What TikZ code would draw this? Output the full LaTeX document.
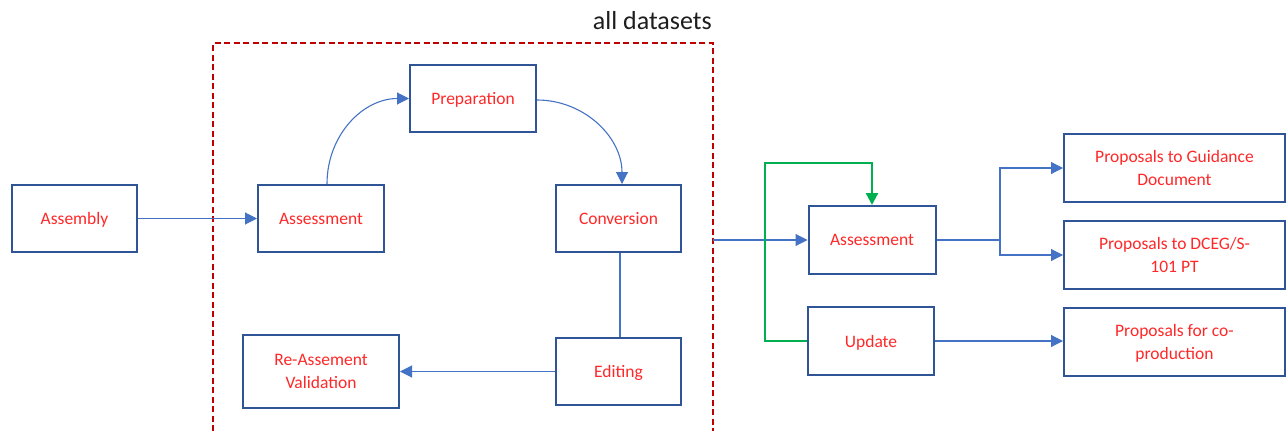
\documentclass[tikz,border=0pt]{standalone}
\usepackage{fontspec}
\setmainfont{Carlito}
\usetikzlibrary{arrows.meta}
\definecolor{boxblue}{RGB}{47,85,151}
\definecolor{linkblue}{RGB}{68,114,196}
\definecolor{labelred}{RGB}{255,40,40}
\definecolor{framered}{RGB}{192,0,0}
\definecolor{loopgreen}{RGB}{0,176,80}
\tikzset{
  stepbox/.style={draw=boxblue, line width=2pt, fill=white, rectangle,
    inner sep=2pt, align=center, text=labelred, text depth=0pt,
    font=\fontsize{17.5}{23}\selectfont},
  link/.style={draw=linkblue, line width=1.1pt,
    -{Triangle[length=12pt,width=12pt]}, color=linkblue},
  plainlink/.style={draw=linkblue, line width=1.1pt},
  loop/.style={draw=loopgreen, line width=2.2pt,
    -{Triangle[length=12pt,width=12pt]}, color=loopgreen},
  frame/.style={draw=framered, line width=2pt, dash pattern=on 6pt off 3.5pt}
}
\begin{document}
\begin{tikzpicture}[x=1pt, y=-1pt]
  \useasboundingbox (0,0) rectangle (1288,431);

  % dashed frame around the per-dataset cycle
  \draw[frame] (213,431) -- (213,43) -- (713,43) -- (713,431);
  \node[anchor=base east, text={rgb,255:red,30;green,30;blue,30},
        font=\fontsize{26}{30}\selectfont, inner sep=0pt] (title) at (712,29) {all datasets};

  % process steps
  \node[stepbox, minimum width=125pt, minimum height=67pt] (asm)   at (74.5,218.5) {Assembly};
  \node[stepbox, minimum width=126pt, minimum height=67pt] (ass1)  at (321,218.5)  {Assessment};
  \node[stepbox, minimum width=126pt, minimum height=67pt] (prep)  at (473,98.5)   {Preparation};
  \node[stepbox, minimum width=125pt, minimum height=67pt] (conv)  at (618.5,218.5) {Conversion};
  \node[stepbox, minimum width=125pt, minimum height=67pt] (edit)  at (618.5,371.5) {Editing};
  \node[stepbox, minimum width=156pt, minimum height=73pt] (reval) at (321,371.5)  {Re-Assement\\Validation};

  \node[stepbox, minimum width=127pt, minimum height=68pt] (ass2)  at (872,240)    {Assessment};
  \node[stepbox, minimum width=126pt, minimum height=68pt] (upd)   at (871,341)    {Update};

  \node[stepbox, minimum width=221pt, minimum height=68pt] (pg) at (1174.5,168)   {Proposals to Guidance\\Document};
  \node[stepbox, minimum width=221pt, minimum height=68pt] (pd) at (1174.5,255)   {Proposals to DCEG/S-\\101 PT};
  \node[stepbox, minimum width=221pt, minimum height=68pt] (pc) at (1174.5,341.5) {Proposals for co-\\production};

  % helper points
  \coordinate (frameout) at (713,240);
  \coordinate (gturn) at (765,163);
  \coordinate (split) at (1000,240);

  % connectors inside the frame (shifts are in page directions: positive = up)
  \draw[link] ([xshift=6pt]ass1.north) .. controls ([xshift=6pt,yshift=49pt]ass1.north) and ([xshift=-46pt]prep.west) .. (prep.west);
  \draw[link] ([yshift=-1.5pt]prep.east) .. controls ([xshift=47pt,yshift=-1.5pt]prep.east) and ([xshift=3.5pt,yshift=47pt]conv.north) .. ([xshift=3.5pt]conv.north);
  \draw[link] (asm.east) -- (ass1.west);
  \draw[plainlink] ([xshift=1.5pt]conv.south) -- ([xshift=1.5pt]edit.north);
  \draw[link] (edit.west) -- (reval.east);

  % connectors on the right
  \draw[link] (frameout) -- (ass2.west);
  \draw[loop] (upd.west) -| (gturn) -| (ass2.north);
  \draw[plainlink] (ass2.east) -- (split);
  \draw[link] (split) |- (pg.west);
  \draw[link] (split) |- (pd.west);
  \draw[link] (upd.east) -- (upd.east -| pc.west);
\end{tikzpicture}
\end{document}
